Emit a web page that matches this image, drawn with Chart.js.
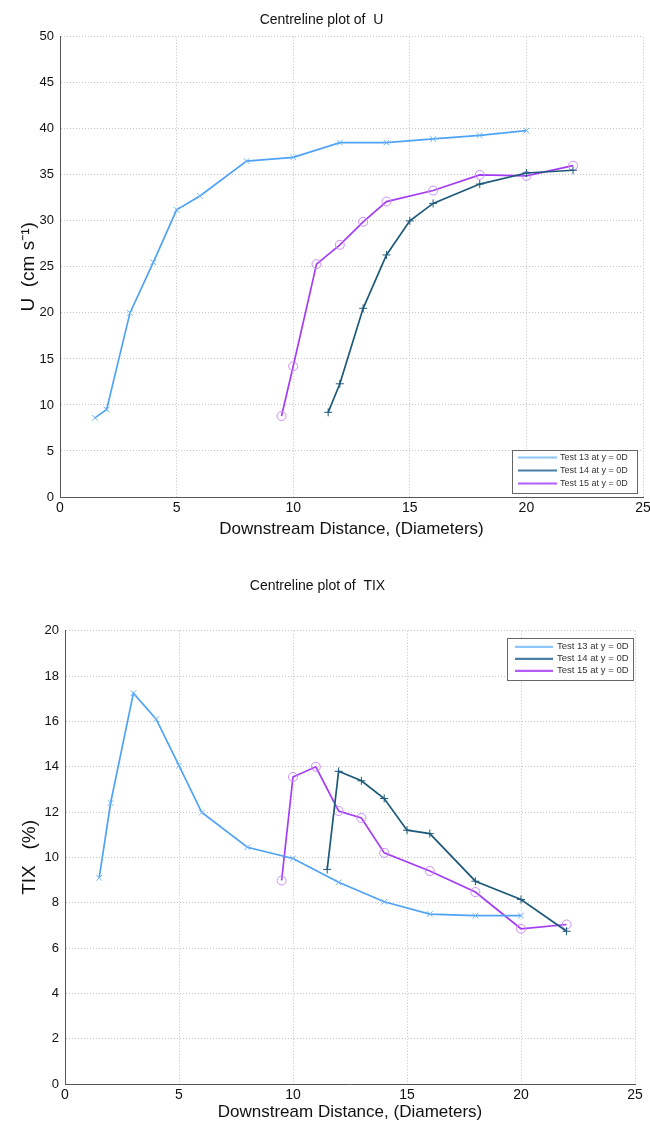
<!DOCTYPE html>
<html>
<head>
<meta charset="utf-8">
<script src="https://cdn.jsdelivr.net/npm/chart.js@4/dist/chart.umd.min.js"></script>
<style>
  html, body { margin: 0; padding: 0; background: #fff; }
  body { width: 650px; height: 1124px; position: relative; overflow: hidden; }
  .box { position: absolute; left: 0; }
  #c1wrap { top: 0; width: 660px; height: 550px; }
  #c2wrap { top: 560px; width: 650px; height: 564px; }
</style>
</head>
<body>
<div id="c1wrap" class="box"><canvas id="c1"></canvas></div>
<div id="c2wrap" class="box"><canvas id="c2"></canvas></div>
<script>
// ---------- DATA ----------
const seriesLabels = ['Test 13 at y = 0D', 'Test 14 at y = 0D', 'Test 15 at y = 0D'];

// Centreline plot of U
const uTest13X = [1.5, 2, 3, 4, 5, 6, 8, 10, 12, 14, 16, 18, 20];
const uTest13Y = [8.6, 9.5, 20.0, 25.5, 31.2, 32.7, 36.5, 36.9, 38.5, 38.5, 38.9, 39.3, 39.8];
const uTest14X = [11.5, 12, 13, 14, 15, 16, 18, 20, 22];
const uTest14Y = [9.2, 12.3, 20.5, 26.3, 30.0, 31.9, 34.0, 35.2, 35.5];
const uTest15X = [9.5, 10, 11, 12, 13, 14, 16, 18, 20, 22];
const uTest15Y = [8.8, 14.2, 25.3, 27.4, 29.9, 32.1, 33.3, 35.0, 34.9, 36.0];

// Centreline plot of TIX
const tixTest13X = [1.5, 2, 3, 4, 5, 6, 8, 10, 12, 14, 16, 18, 20];
const tixTest13Y = [9.1, 12.4, 17.25, 16.1, 14.05, 11.98, 10.45, 9.95, 8.9, 8.04, 7.5, 7.43, 7.43];
const tixTest14X = [11.5, 12, 13, 14, 15, 16, 18, 20, 22];
const tixTest14Y = [9.47, 13.8, 13.38, 12.6, 11.2, 11.05, 8.95, 8.14, 6.74];
const tixTest15X = [9.5, 10, 11, 12, 13, 14, 16, 18, 20, 22];
const tixTest15Y = [8.98, 13.55, 14.0, 12.05, 11.74, 10.2, 9.4, 8.47, 6.85, 7.04];

const xTicks = [0, 5, 10, 15, 20, 25];
const uTicks = [0, 5, 10, 15, 20, 25, 30, 35, 40, 45, 50];
const tixTicks = [0, 2, 4, 6, 8, 10, 12, 14, 16, 18, 20];

// ---------- STYLE ----------
const FONT = "'Liberation Sans', Arial, Helvetica, sans-serif";
Chart.defaults.font.family = FONT;
Chart.defaults.color = '#1a1a1a';

const lineColors = ['#4fa3f7', '#1d5a7a', '#a53cf5'];
const markerColors = ['#6cb4fb', '#1d5a7a', '#cc8cf8'];
const legendColors = ['#8cc6fb', '#4a7ea6', '#b45cf7'];
const markerStyles = ['crossRot', 'cross', 'circle'];

function zip(xs, ys) { return xs.map((x, i) => ({ x: x, y: ys[i] })); }

function makeDatasets(sets) {
  return sets.map((s, i) => ({
    label: seriesLabels[i],
    data: zip(s[0], s[1]),
    borderColor: lineColors[i],
    backgroundColor: 'rgba(0,0,0,0)',
    borderWidth: 1.7,
    tension: 0,
    pointStyle: markerStyles[i],
    pointRadius: i === 2 ? 4.5 : 4,
    pointBorderColor: markerColors[i],
    pointBackgroundColor: 'rgba(0,0,0,0)',
    pointBorderWidth: 1,
    pointHoverRadius: 0
  }));
}

const insideLegend = {
  id: 'insideLegend',
  afterDraw(chart, args, o) {
    const ctx = chart.ctx, a = chart.chartArea;
    const x0 = a.right - o.offsetRight - o.width;
    const y0 = o.anchor === 'top' ? a.top + o.offsetY : a.bottom - o.offsetY - o.height;
    ctx.save();
    ctx.fillStyle = '#fff';
    ctx.fillRect(x0, y0, o.width, o.height);
    ctx.strokeStyle = '#666';
    ctx.lineWidth = 1;
    ctx.strokeRect(Math.round(x0) + 0.5, Math.round(y0) + 0.5, o.width, o.height);
    ctx.font = o.fontSize + 'px ' + FONT;
    ctx.textBaseline = 'middle';
    ctx.textAlign = 'left';
    chart.data.datasets.forEach((ds, i) => {
      const y = y0 + o.firstRow + i * o.rowH;
      ctx.strokeStyle = legendColors[i];
      ctx.lineWidth = 2.2;
      ctx.beginPath();
      ctx.moveTo(x0 + o.lineStart, y);
      ctx.lineTo(x0 + o.lineEnd, y);
      ctx.stroke();
      ctx.fillStyle = '#333';
      ctx.fillText(ds.label, x0 + o.textStart, y);
    });
    ctx.restore();
  }
};

function makeOptions(cfg) {
  return {
    responsive: true,
    maintainAspectRatio: false,
    animation: false,
    events: [],
    layout: { padding: { left: 0, right: cfg.padRight, top: 0, bottom: 0 } },
    plugins: {
      legend: { display: false },
      tooltip: { enabled: false },
      title: {
        display: true,
        text: cfg.title,
        color: '#111',
        font: { size: 14, weight: 'normal', family: FONT },
        padding: cfg.titlePad
      },
      insideLegend: cfg.legend
    },
    scales: {
      x: {
        type: 'linear',
        min: 0, max: 25,
        afterBuildTicks: s => { s.ticks = xTicks.map(v => ({ value: v })); },
        afterFit: s => { s.height = cfg.xHeight; },
        ticks: { color: '#111', font: { size: 14 }, padding: 3, maxRotation: 0 },
        grid: { color: '#c4c4c4', drawTicks: false, lineWidth: 1 },
        border: { display: true, color: '#555', width: 1, dash: [1, 2] },
        title: {
          display: true,
          text: 'Downstream Distance, (Diameters)',
          color: '#111',
          font: { size: 17 },
          padding: { top: 0, bottom: cfg.xTitlePadBottom }
        }
      },
      y: {
        type: 'linear',
        min: cfg.yMin, max: cfg.yMax,
        afterBuildTicks: s => { s.ticks = cfg.yTicks.map(v => ({ value: v })); },
        afterFit: s => { s.width = cfg.yWidth; },
        ticks: { color: '#111', font: { size: 13 }, padding: 6 },
        grid: { color: '#c4c4c4', drawTicks: false, lineWidth: 1 },
        border: { display: true, color: '#555', width: 1, dash: [1, 2] },
        title: {
          display: true,
          text: cfg.yTitle,
          color: '#111',
          font: { size: 19, weight: 'normal' },
          padding: { top: cfg.yTitlePad, bottom: 0 }
        }
      }
    }
  };
}

new Chart(document.getElementById('c1'), {
  type: 'line',
  data: {
    datasets: makeDatasets([[uTest13X, uTest13Y], [uTest14X, uTest14Y], [uTest15X, uTest15Y]])
  },
  options: makeOptions({
    title: 'Centreline plot of  U',
    titlePad: { top: 12, bottom: 8 },
    padRight: 17,
    xHeight: 53,
    xTitlePadBottom: 10,
    yWidth: 60,
    yMin: 0, yMax: 50,
    yTicks: uTicks,
    yTitle: 'U  (cm s\u207B\u00B9)',
    yTitlePad: 17,
    legend: { anchor: 'bottom', offsetRight: 6, offsetY: 4, width: 125, height: 43,
              firstRow: 7.5, rowH: 13, lineStart: 6, lineEnd: 45, textStart: 48, fontSize: 9 }
  }),
  plugins: [insideLegend]
});

new Chart(document.getElementById('c2'), {
  type: 'line',
  data: {
    datasets: makeDatasets([[tixTest13X, tixTest13Y], [tixTest14X, tixTest14Y], [tixTest15X, tixTest15Y]])
  },
  options: makeOptions({
    title: 'Centreline plot of  TIX',
    titlePad: { top: 18, bottom: 36 },
    padRight: 15,
    xHeight: 40,
    xTitlePadBottom: 1,
    yWidth: 65,
    yMin: 0, yMax: 20,
    yTicks: tixTicks,
    yTitle: 'TIX   (%)',
    yTitlePad: 18,
    legend: { anchor: 'top', offsetRight: 2, offsetY: 7, width: 126, height: 42,
              firstRow: 9, rowH: 12, lineStart: 8, lineEnd: 46, textStart: 50, fontSize: 9.5 }
  }),
  plugins: [insideLegend]
});
</script>
</body>
</html>
